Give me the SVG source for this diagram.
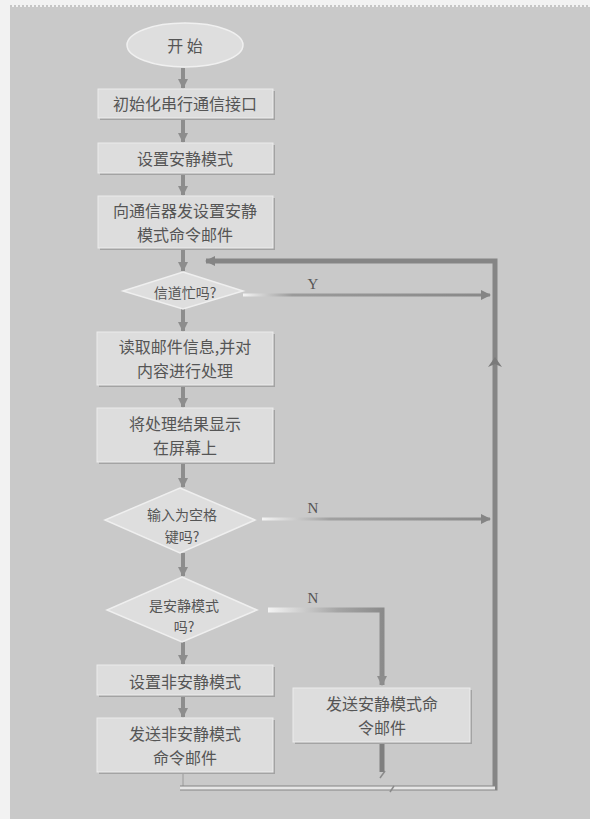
<svg xmlns="http://www.w3.org/2000/svg" width="590" height="819" viewBox="0 0 590 819">
<style>
.bg{fill:#c9c9c9}
.box{fill:#dddddd;stroke:#ececec;stroke-width:1}
.sh{fill:#a3a3a3}
.t{font-family:"Noto Sans CJK SC","Noto Sans",sans-serif;font-size:16px;fill:#555555;text-anchor:middle;dominant-baseline:central}
.ts{font-size:14px}
.lbl{font-family:"Liberation Serif",serif;font-size:15px;fill:#555555;text-anchor:middle}
.flow{stroke:#8d8d8d;stroke-width:4;fill:none}
.loop{stroke:#858585;stroke-width:5;fill:none}
</style>
<defs>
<marker id="ah" markerUnits="userSpaceOnUse" markerWidth="14" markerHeight="10" refX="9" refY="5" orient="auto">
<path d="M0,0 L10,5 L0,10 z" fill="#8d8d8d"/>
</marker>
<marker id="ahs" markerUnits="userSpaceOnUse" markerWidth="12" markerHeight="10" refX="9" refY="5" orient="auto">
<path d="M0,0 L10,5 L0,10 z" fill="#858585"/>
</marker>
<linearGradient id="gy" gradientUnits="userSpaceOnUse" x1="243" y1="0" x2="490" y2="0">
<stop offset="0" stop-color="#f4f4f4"/>
<stop offset="0.2" stop-color="#9a9a9a"/>
<stop offset="1" stop-color="#888888"/>
</linearGradient>
<linearGradient id="gn" gradientUnits="userSpaceOnUse" x1="262" y1="0" x2="490" y2="0">
<stop offset="0" stop-color="#f4f4f4"/>
<stop offset="0.3" stop-color="#a0a0a0"/>
<stop offset="1" stop-color="#8a8a8a"/>
</linearGradient>
<linearGradient id="gn2" gradientUnits="userSpaceOnUse" x1="268" y1="0" x2="384" y2="0">
<stop offset="0" stop-color="#f4f4f4"/>
<stop offset="0.6" stop-color="#a5a5a5"/>
<stop offset="1" stop-color="#8a8a8a"/>
</linearGradient>
</defs>
<rect x="0" y="0" width="590" height="819" fill="#f2f2f2"/>
<rect class="bg" x="10" y="7" width="580" height="812"/>
<line x1="10" y1="6" x2="590" y2="6" stroke="#9a9a9a" stroke-width="1" stroke-dasharray="2,2"/>

<g id="connectors">
<line class="flow" x1="183" y1="68" x2="183" y2="88" marker-end="url(#ah)"/>
<line class="flow" x1="183" y1="118" x2="183" y2="142" marker-end="url(#ah)"/>
<line class="flow" x1="183" y1="173" x2="183" y2="195" marker-end="url(#ah)"/>
<line class="flow" x1="183" y1="248" x2="183" y2="271" marker-end="url(#ah)"/>
<line class="flow" x1="183" y1="308" x2="183" y2="331" marker-end="url(#ah)"/>
<line class="flow" x1="183" y1="385" x2="183" y2="407" marker-end="url(#ah)"/>
<line class="flow" x1="183" y1="462" x2="183" y2="487" marker-end="url(#ah)"/>
<line class="flow" x1="183" y1="553" x2="183" y2="576" marker-end="url(#ah)"/>
<line class="flow" x1="183" y1="642" x2="183" y2="664" marker-end="url(#ah)"/>
<line class="flow" x1="183" y1="695" x2="183" y2="717" marker-end="url(#ah)"/>
<line x1="183" y1="772" x2="183" y2="786" stroke="#9a9a9a" stroke-width="1"/>
<path class="loop" d="M180,788 L495,788 L495,261 L206,261" stroke="#8a8a8a" marker-end="url(#ahs)"/>
<line x1="180" y1="788" x2="495" y2="788" stroke="#e6e6e6" stroke-width="3"/>
<path d="M488,367 L495,357 L502,367 L495,364 z" fill="#7a7a7a"/>
<line x1="243" y1="295" x2="490" y2="295" stroke="url(#gy)" stroke-width="3" marker-end="url(#ahs)"/>
<text class="lbl" x="313" y="289">Y</text>
<line x1="262" y1="519" x2="490" y2="519" stroke="url(#gn)" stroke-width="3" marker-end="url(#ahs)"/>
<text class="lbl" x="313" y="513">N</text>
<path d="M268,610 L382,610 L382,685" fill="none" stroke="url(#gn2)" stroke-width="5" marker-end="url(#ah)"/>
<text class="lbl" x="313" y="603">N</text>
<line x1="382" y1="742" x2="382" y2="772" stroke="#7f7f7f" stroke-width="5"/>
<path d="M380,778 L385,771" stroke="#8a8a8a" stroke-width="1.5" fill="none"/>
<path d="M390,792 L394,786" stroke="#8a8a8a" stroke-width="1.5" fill="none"/>
</g>

<g id="start">
<ellipse cx="185" cy="45" rx="58" ry="22" fill="#dedede" stroke="#f0f0f0" stroke-width="1.5"/>
<text class="t" x="185" y="45" xml:space="preserve">开 始</text>
</g>
<g id="init">
<rect class="sh" x="100" y="91" width="175" height="29"/>
<rect class="box" x="98" y="89" width="175" height="29"/>
<text class="t" x="185" y="103">初始化串行通信接口</text>
</g>
<g id="setquiet">
<rect class="sh" x="100" y="145" width="175" height="30"/>
<rect class="box" x="98" y="143" width="175" height="30"/>
<text class="t" x="185" y="158">设置安静模式</text>
</g>
<g id="sendquietcfg">
<rect class="sh" x="100" y="198" width="175" height="52"/>
<rect class="box" x="98" y="196" width="175" height="52"/>
<text class="t" x="185" y="210">向通信器发设置安静</text>
<text class="t" x="185" y="234">模式命令邮件</text>
</g>
<g id="busy">
<polygon points="183,272 243,291 183,309 123,291" fill="#dedede" stroke="#efefef" stroke-width="1.5"/>
<text class="t ts" x="185" y="292">信道忙吗?</text>
</g>
<g id="read">
<rect class="sh" x="99" y="334" width="176" height="53"/>
<rect class="box" x="97" y="332" width="176" height="53"/>
<text class="t" x="185" y="346">读取邮件信息,并对</text>
<text class="t" x="185" y="370">内容进行处理</text>
</g>
<g id="display">
<rect class="sh" x="99" y="410" width="176" height="54"/>
<rect class="box" x="97" y="408" width="176" height="54"/>
<text class="t" x="185" y="423">将处理结果显示</text>
<text class="t" x="185" y="447">在屏幕上</text>
</g>
<g id="space">
<polygon points="180,488 255,520 180,553 105,520" fill="#dedede" stroke="#efefef" stroke-width="1.5"/>
<text class="t ts" x="182" y="514">输入为空格</text>
<text class="t ts" x="182" y="536">键吗?</text>
</g>
<g id="isquiet">
<polygon points="182,577 257,610 182,642 107,610" fill="#dedede" stroke="#efefef" stroke-width="1.5"/>
<text class="t ts" x="184" y="605">是安静模式</text>
<text class="t ts" x="184" y="626">吗?</text>
</g>
<g id="setnonquiet">
<rect class="sh" x="99" y="667" width="176" height="30"/>
<rect class="box" x="97" y="665" width="176" height="30"/>
<text class="t" x="185" y="681">设置非安静模式</text>
</g>
<g id="sendnonquiet">
<rect class="sh" x="99" y="720" width="176" height="54"/>
<rect class="box" x="97" y="718" width="176" height="54"/>
<text class="t" x="185" y="733">发送非安静模式</text>
<text class="t" x="185" y="757">命令邮件</text>
</g>
<g id="sendquiet">
<rect class="sh" x="295" y="690" width="177" height="54"/>
<rect class="box" x="293" y="688" width="177" height="54"/>
<text class="t" x="382" y="703">发送安静模式命</text>
<text class="t" x="382" y="727">令邮件</text>
</g>
</svg>
